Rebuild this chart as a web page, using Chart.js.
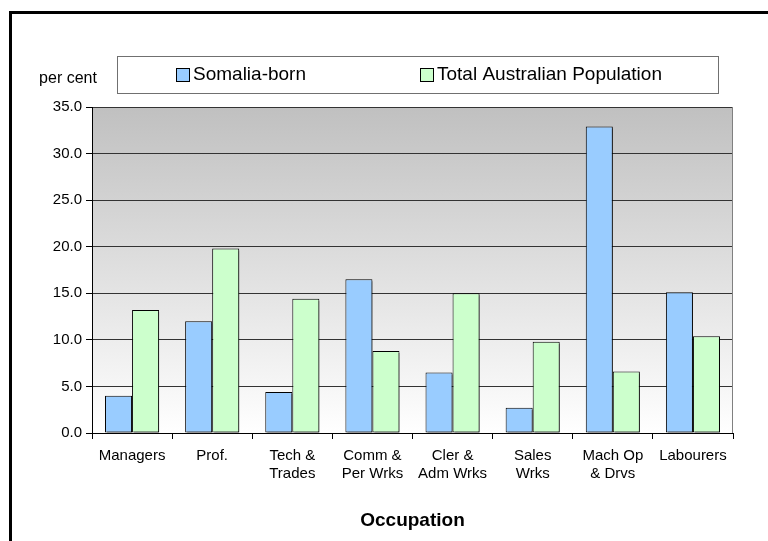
<!DOCTYPE html>
<html>
<head>
<meta charset="utf-8">
<title>Occupation - Somalia-born</title>
<script src="https://cdn.jsdelivr.net/npm/chart.js@4.4.1/dist/chart.umd.min.js"></script>
<style>
  html, body { margin: 0; padding: 0; background: #fff; }
  #wrap { width: 768px; height: 541px; position: relative; }
</style>
</head>
<body>
<div id="wrap"><canvas id="occChart"></canvas></div>
<script>
// occupation groups (x axis), two-line labels
const categories = [
  ['Managers'], ['Prof.'], ['Tech &', 'Trades'], ['Comm &', 'Per Wrks'],
  ['Cler &', 'Adm Wrks'], ['Sales', 'Wrks'], ['Mach Op', '& Drvs'], ['Labourers']
];
const seriesNames = ['Somalia-born', 'Total Australian Population'];
const somaliaBorn = [4.0, 12.0, 4.4, 16.5, 6.5, 2.7, 32.9, 15.1];
const totalAustralia = [13.2, 19.8, 14.4, 8.8, 15.0, 9.8, 6.6, 10.4];
const seriesColors = ['#99ccff', '#ccffcc'];
const yTicks = [0, 5, 10, 15, 20, 25, 30, 35];

const FONT = "'Liberation Sans', Arial, sans-serif";

// gradient plot background + outer frame
const backdrop = {
  id: 'backdrop',
  beforeDraw(chart) {
    const { ctx, chartArea: a } = chart;
    ctx.save();
    const g = ctx.createLinearGradient(0, a.top, 0, a.bottom);
    g.addColorStop(0, '#c0c0c0');
    g.addColorStop(1, '#ffffff');
    ctx.fillStyle = g;
    ctx.fillRect(a.left, a.top, a.right - a.left, a.bottom - a.top);
    ctx.restore();
  },
  afterDraw(chart) {
    const { ctx, chartArea: a } = chart;
    ctx.save();
    // right edge of plot
    ctx.strokeStyle = '#808080';
    ctx.lineWidth = 1;
    ctx.beginPath();
    ctx.moveTo(Math.round(a.right) - 0.5, a.top);
    ctx.lineTo(Math.round(a.right) - 0.5, a.bottom);
    ctx.stroke();
    // outer frame (cropped at right and bottom)
    ctx.strokeStyle = '#000';
    ctx.lineWidth = 3;
    ctx.strokeRect(10.5, 12.5, 900, 700);
    // "per cent" label
    ctx.fillStyle = '#000';
    ctx.font = '16px ' + FONT;
    ctx.textAlign = 'center';
    ctx.textBaseline = 'middle';
    ctx.fillText('per cent', 68, 79);
    // legend box
    ctx.strokeStyle = '#707070';
    ctx.lineWidth = 1;
    ctx.strokeRect(117.5, 56.5, 601, 37);
    const itemX = [176, 420];
    ctx.font = '19px ' + FONT;
    ctx.textAlign = 'left';
    chart.data.datasets.forEach((ds, i) => {
      ctx.fillStyle = ds.backgroundColor;
      ctx.fillRect(itemX[i] + 0.5, 68.5, 13, 13);
      ctx.strokeStyle = '#000';
      ctx.strokeRect(itemX[i] + 0.5, 68.5, 13, 13);
      ctx.fillStyle = '#000';
      ctx.fillText(ds.label, itemX[i] + 17, 75);
    });
    ctx.restore();
  }
};

// drop shadow under the bars
const barShadow = {
  id: 'barShadow',
  beforeDatasetDraw(chart) {
    const ctx = chart.ctx;
    ctx.save();
    ctx.shadowColor = 'rgba(0,0,0,0.45)';
    ctx.shadowOffsetX = 2;
    ctx.shadowOffsetY = 2;
    ctx.shadowBlur = 0;
  },
  afterDatasetDraw(chart) {
    chart.ctx.restore();
  }
};

new Chart(document.getElementById('occChart'), {
  type: 'bar',
  data: {
    labels: categories,
    datasets: [
      { label: seriesNames[0], data: somaliaBorn, backgroundColor: seriesColors[0] },
      { label: seriesNames[1], data: totalAustralia, backgroundColor: seriesColors[1] }
    ]
  },
  options: {
    responsive: true,
    maintainAspectRatio: false,
    animation: false,
    devicePixelRatio: 1,
    layout: { padding: { top: 107, right: 35, left: 0, bottom: 0 } },
    datasets: {
      bar: {
        borderColor: '#000',
        borderWidth: 1,
        borderSkipped: false,
        categoryPercentage: 0.675,
        barPercentage: 1.0
      }
    },
    plugins: {
      legend: { display: false },
      tooltip: { enabled: false }
    },
    scales: {
      x: {
        offset: true,
        grid: {
          offset: true,
          drawOnChartArea: false,
          drawTicks: true,
          tickLength: 6,
          tickColor: '#000'
        },
        border: { color: '#000', width: 1 },
        ticks: {
          color: '#000',
          font: { family: FONT, size: 15, lineHeight: 1.2 },
          padding: 8,
          maxRotation: 0,
          autoSkip: false
        },
        title: {
          display: true,
          text: 'Occupation',
          color: '#000',
          font: { family: FONT, size: 19, weight: 'bold' },
          padding: { top: 0, bottom: 9 }
        },
        afterFit(scale) { scale.height = 108; }
      },
      y: {
        min: 0,
        max: 35,
        afterBuildTicks(scale) {
          scale.ticks = yTicks.map(v => ({ value: v }));
        },
        grid: {
          color: '#333',
          lineWidth: 1,
          tickLength: 6,
          tickColor: '#000'
        },
        border: { color: '#000', width: 1 },
        ticks: {
          color: '#000',
          font: { family: FONT, size: 15 },
          padding: 4,
          callback: v => Number(v).toFixed(1)
        },
        afterFit(scale) { scale.width = 92; }
      }
    }
  },
  plugins: [backdrop, barShadow]
});
</script>
</body>
</html>
